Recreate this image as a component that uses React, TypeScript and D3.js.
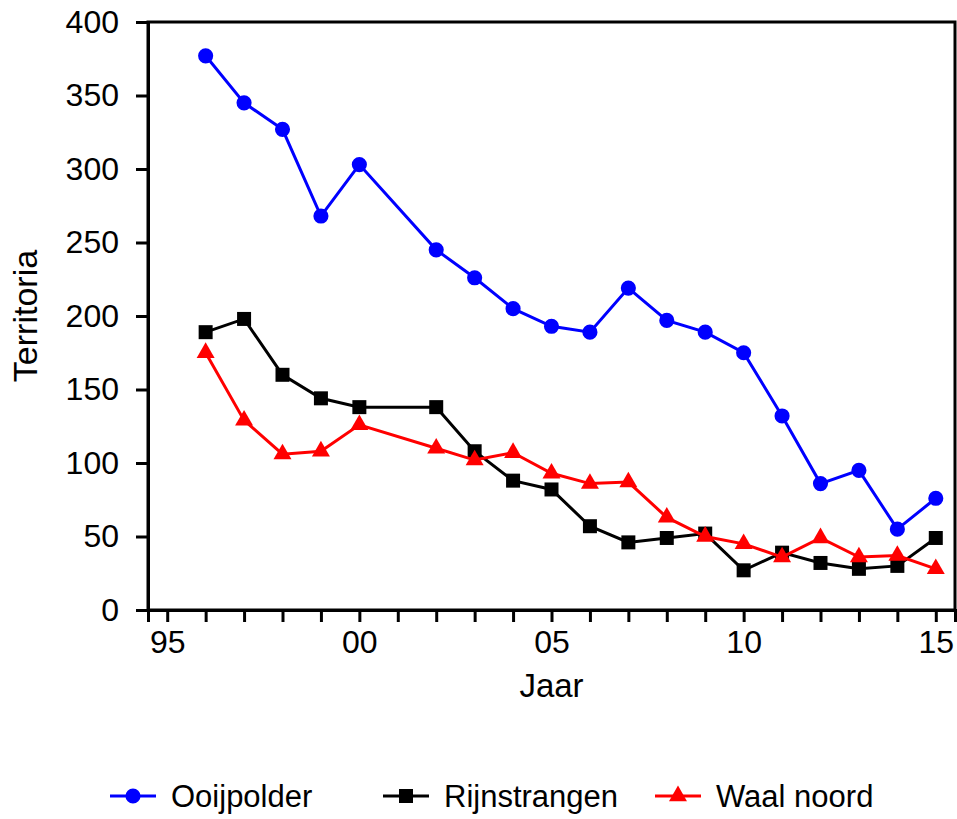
import { useEffect, useRef } from 'react';
import * as d3 from 'd3';

const years = [1996, 1997, 1998, 1999, 2000, 2002, 2003, 2004, 2005, 2006, 2007, 2008, 2009, 2010, 2011, 2012, 2013, 2014, 2015];
const ooijpolder = [377, 345, 327, 268, 303, 245, 226, 205, 193, 189, 219, 197, 189, 175, 132, 86, 95, 55, 76];
const rijnstrangen = [189, 198, 160, 144, 138, 138, 108, 88, 82, 57, 46, 49, 52, 27, 39, 32, 28, 30, 49];
const waalNoord = [175, 129, 106, 108, 126, 110, 102, 107, 93, 86, 87, 63, 50, 45, 36, 49, 36, 37, 28];
const yTicks = [0, 50, 100, 150, 200, 250, 300, 350, 400];
const xTickYears = d3.range(1995, 2016);
const xLabelYears = [1995, 2000, 2005, 2010, 2015];

const series = [
  { name: 'Ooijpolder', values: ooijpolder, color: '#0000ff', symbol: d3.symbolCircle, size: 180 },
  { name: 'Rijnstrangen', values: rijnstrangen, color: '#000000', symbol: d3.symbolSquare, size: 196 },
  { name: 'Waal noord', values: waalNoord, color: '#ff0000', symbol: d3.symbolTriangle, size: 140 },
];

export default function App() {
  const svgRef = useRef<SVGSVGElement | null>(null);

  useEffect(() => {
    if (!svgRef.current) return;
    const svg = d3.select(svgRef.current);
    svg.selectAll('*').remove();

    const width = 957;
    const height = 819;
    const margin = { top: 22, right: 2, bottom: 209, left: 148 };
    const font = 'Liberation Sans, Arial, sans-serif';

    const x = d3.scaleLinear().domain([1994.5, 2015.5]).range([margin.left, width - margin.right]);
    const y = d3.scaleLinear().domain([0, 400]).range([height - margin.bottom, margin.top]);

    svg.attr('width', width).attr('height', height);

    // frame
    svg
      .append('rect')
      .attr('x', margin.left)
      .attr('y', margin.top)
      .attr('width', width - margin.right - margin.left)
      .attr('height', height - margin.bottom - margin.top)
      .attr('fill', 'none')
      .attr('stroke', '#000')
      .attr('stroke-width', 3);

    const yAxis = svg
      .append('g')
      .attr('transform', `translate(${margin.left},0)`)
      .call(d3.axisLeft(y).tickValues(yTicks).tickSize(12).tickPadding(17).tickFormat(d3.format('d')));
    yAxis.select('.domain').attr('stroke-width', 3);
    yAxis.selectAll('line').attr('stroke-width', 3);
    yAxis.selectAll('text').style('font-size', '32px').style('font-family', font).attr('fill', '#000');

    const xAxis = svg
      .append('g')
      .attr('transform', `translate(0,${height - margin.bottom})`)
      .call(
        d3
          .axisBottom(x)
          .tickValues(xTickYears)
          .tickSize(12)
          .tickPadding(8)
          .tickFormat((d) => (xLabelYears.includes(+d) ? String(+d % 100).padStart(2, '0') : ''))
      );
    xAxis.select('.domain').attr('stroke-width', 3);
    xAxis.selectAll('line').attr('stroke-width', 3);
    xAxis.selectAll('text').style('font-size', '32px').style('font-family', font).attr('fill', '#000');

    svg
      .append('text')
      .attr('x', (margin.left + width - margin.right) / 2)
      .attr('y', 697)
      .attr('text-anchor', 'middle')
      .style('font-size', '33px')
      .style('font-family', font)
      .text('Jaar');

    svg
      .append('text')
      .attr('transform', `translate(37,${(margin.top + height - margin.bottom) / 2}) rotate(-90)`)
      .attr('text-anchor', 'middle')
      .style('font-size', '34px')
      .style('font-family', font)
      .text('Territoria');

    const line = d3
      .line<number>()
      .x((_, i) => x(years[i]))
      .y((d) => y(d));

    series.forEach((s) => {
      svg
        .append('path')
        .datum(s.values)
        .attr('d', line)
        .attr('fill', 'none')
        .attr('stroke', s.color)
        .attr('stroke-width', 3);

      svg
        .append('g')
        .selectAll('path')
        .data(s.values)
        .join('path')
        .attr('transform', (d, i) => `translate(${x(years[i])},${y(d)})`)
        .attr('d', d3.symbol(s.symbol, s.size)())
        .attr('fill', s.color);
    });

    // legend
    const legendX = [110, 383, 655];
    const legendY = 796;
    series.forEach((s, i) => {
      const g = svg.append('g').attr('transform', `translate(${legendX[i]},${legendY})`);
      g.append('line')
        .attr('x1', 0)
        .attr('x2', 46)
        .attr('stroke', s.color)
        .attr('stroke-width', 3);
      g.append('path').attr('transform', 'translate(23,0)').attr('d', d3.symbol(s.symbol, s.size)()).attr('fill', s.color);
      g.append('text')
        .attr('x', 61)
        .attr('y', 11)
        .style('font-size', '31px')
        .style('font-family', font)
        .text(s.name);
    });
  }, []);

  return (
    <div style={{ position: 'absolute', left: 0, top: 0, background: '#fff' }}>
      <svg ref={svgRef} />
    </div>
  );
}
